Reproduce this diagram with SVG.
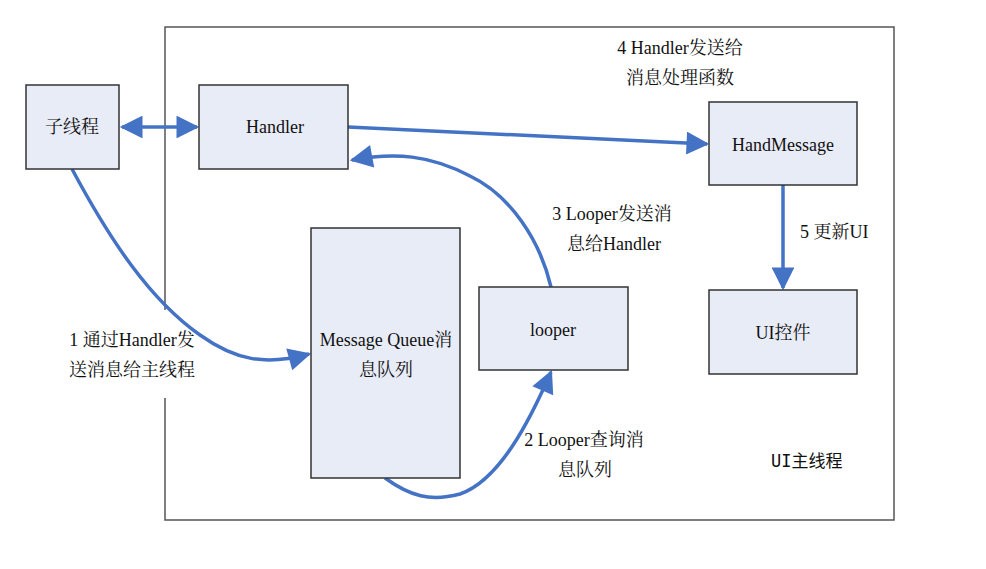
<svg xmlns="http://www.w3.org/2000/svg" width="986" height="569" viewBox="0 0 986 569">
<style>
.node rect{fill:#E8ECF7;stroke:#333;stroke-width:1.5}
.t{font-family:"Liberation Serif","Noto Serif CJK SC","Noto Sans CJK SC",serif;font-size:18px;fill:#111}
.c{text-anchor:middle}
.edge{fill:none;stroke:#4472C4;stroke-width:3.5}
.frame{stroke:#555;stroke-width:1.5;fill:none}
</style>
<defs>
<marker id="ah" viewBox="0 0 10 10" refX="9" refY="5" markerWidth="7" markerHeight="6.5" markerUnits="strokeWidth" orient="auto-start-reverse">
<path d="M0,0 L10,5 L0,10 z" fill="#4472C4"/>
</marker>
</defs>
<rect width="986" height="569" fill="#fff"/>
<g id="frame">
<path class="frame" d="M165,310 V27 H894 V520 H165 V398"/>
<text class="t" x="771" y="467" style="font-family:'DejaVu Sans Mono','Noto Sans CJK SC',monospace;font-size:17px">UI主线程</text>
</g>
<g id="connectors">
<line class="edge" x1="122" y1="127" x2="197" y2="127" marker-start="url(#ah)" marker-end="url(#ah)"/>
<line class="edge" x1="348" y1="127" x2="707" y2="144" marker-end="url(#ah)"/>
<line class="edge" x1="783" y1="185" x2="783" y2="288" marker-end="url(#ah)"/>
<path class="edge" d="M551,287 C540,240 510,195 470,176 C430,155 395,152 352,160" marker-end="url(#ah)"/>
<path class="edge" d="M72,169 C110,240 150,300 200,335 C235,360 265,366 309,354" marker-end="url(#ah)"/>
<path class="edge" d="M385,478 C410,496 430,502 460,494 C500,480 530,420 551,372" marker-end="url(#ah)"/>
<text class="t c" x="680" y="54">4 Handler发送给</text>
<text class="t c" x="680" y="84">消息处理函数</text>
<text class="t c" x="612" y="220">3 Looper发送消</text>
<text class="t c" x="614" y="250">息给Handler</text>
<text class="t" x="800" y="238">5 更新UI</text>
<text class="t c" x="132" y="346">1 通过Handler发</text>
<text class="t c" x="132" y="376">送消息给主线程</text>
<text class="t c" x="584" y="446">2 Looper查询消</text>
<text class="t c" x="585" y="476">息队列</text>
</g>
<g id="n-sub" class="node"><rect x="26" y="85" width="93" height="84"/><text class="t c" x="72" y="133">子线程</text></g>
<g id="n-handler" class="node"><rect x="199" y="85" width="149" height="84"/><text class="t c" x="275" y="133">Handler</text></g>
<g id="n-handmsg" class="node"><rect x="709" y="102" width="148" height="83"/><text class="t c" x="783" y="151">HandMessage</text></g>
<g id="n-ui" class="node"><rect x="709" y="290" width="148" height="84"/><text class="t c" x="783" y="339">UI控件</text></g>
<g id="n-mq" class="node"><rect x="311" y="228" width="149" height="250"/><text class="t c" x="386" y="346">Message Queue消</text><text class="t c" x="386" y="376">息队列</text></g>
<g id="n-looper" class="node"><rect x="479" y="287" width="149" height="83"/><text class="t c" x="553" y="336">looper</text></g>
</svg>
